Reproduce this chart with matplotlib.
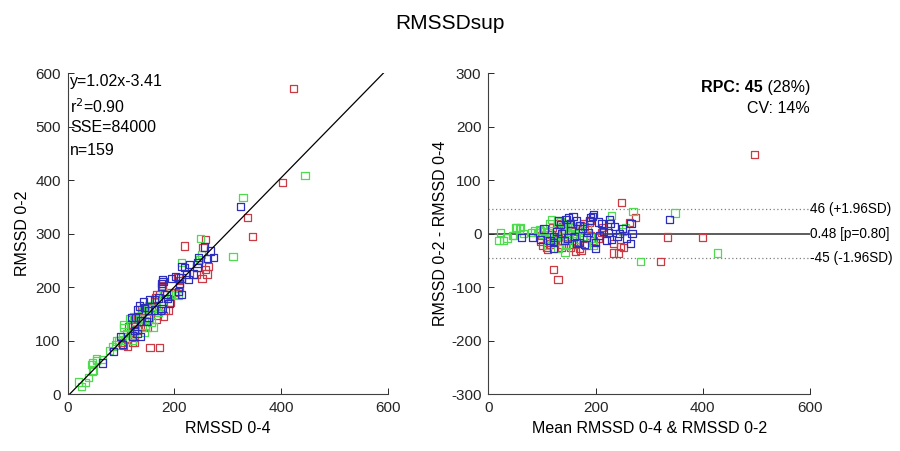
import numpy as np
import matplotlib
matplotlib.use("Agg")
import matplotlib.pyplot as plt

plt.rcParams['font.family'] = ['Liberation Sans', 'DejaVu Sans']
plt.rcParams['axes.unicode_minus'] = False

# Bland-Altman readings (mean of methods, difference 0-2 minus 0-4) per group
red_mean = [497, 248, 334, 399, 321, 121, 130, 274, 264, 252, 243, 234, 233, 213, 189, 177, 179,
            191, 182, 173, 163, 148, 138, 130, 137, 137, 153, 117, 111, 101, 98, 99, 109, 116,
            127, 134, 172, 190, 158, 170, 246, 211, 145, 125, 205, 160, 120, 140, 196, 108]
red_diff = [148, 58, -6, -7, -52, -67, -85, 30, 21, -25, -36, -36, -18, 12, 22, 19, 14,
            -3, -22, -31, -33, 19, 14, 19, -19, -25, -25, -2, -29, -22, -14, -3, -25, -19,
            9, 17, 16, 25, -20, -28, -24, 3, -5, -10, -8, 5, 12, 2, -12, -8]
blue_mean = [338, 266, 268, 258, 265, 245, 236, 228, 226, 224, 211, 208, 196, 191, 189, 200,
             200, 183, 165, 169, 158, 165, 153, 145, 135, 137, 154, 122, 122, 122, 104, 83, 62,
             98, 195, 230, 250, 215, 175, 160, 142, 180, 128, 150, 205, 240, 170, 115, 186,
             132, 220, 148]
blue_diff = [27, 19, 0, -8, -18, 1, 14, 19, 26, 2, 19, -3, 36, 31, 25, -16,
             -28, -7, -17, -16, 32, 24, 19, 26, 17, 0, 6, -6, -16, -27, 9, -7, -7,
             -11, 33, -10, 10, 5, 10, -5, -12, -20, 5, 30, 22, -5, 15, -12, 2,
             24, -12, -8]
green_mean = [270, 348, 427, 284, 256, 230, 194, 196, 165, 155, 152, 143, 129, 140, 147, 143,
              146, 160, 118, 115, 112, 111, 98, 87, 65, 58, 53, 47, 22, 20, 28, 45, 50, 80,
              96, 133, 138, 150, 170, 125, 158, 135, 120, 105, 102, 190, 176, 250, 162, 148,
              60, 91, 130, 185, 115, 168, 35]
green_diff = [42, 39, -36, -52, 11, 34, -16, -22, -3, 12, 19, 9, 25, -6, -11, -34,
              -22, 0, 26, 19, 3, -22, 6, 6, 0, 9, 12, -3, 2, -12, -12, -3, 11, 3,
              7, -14, 8, -2, -10, -5, 14, 22, -12, 4, -1, -8, -4, 5, -18, 15,
              12, 2, -28, 12, -8, 6, -8]

reg_slope, reg_icpt = 1.02, -3.41
fit_text = ["y=1.02x-3.41", "r$^2$=0.90", "SSE=84000", "n=159"]
bias, upper, lower = 0.48, 46, -45
bias_label, upper_label, lower_label = "0.48 [p=0.80]", "46 (+1.96SD)", "-45 (-1.96SD)"

groups = [
    (red_mean, red_diff, '#CC3B45'),
    (green_mean, green_diff, '#4EDC4E'),
    (blue_mean, blue_diff, '#2E2EBE'),
]

fig = plt.figure(figsize=(9, 4.51), dpi=100)
ax1 = fig.add_axes([0.0752, 0.1257, 0.3556, 0.7118])
ax2 = fig.add_axes([0.5426, 0.1257, 0.3574, 0.7118])

for ax in (ax1, ax2):
    for s in ('top', 'right'):
        ax.spines[s].set_visible(False)
    for s in ('left', 'bottom'):
        ax.spines[s].set_color('#404040')
        ax.spines[s].set_linewidth(0.8)
    ax.tick_params(direction='in', length=4, width=0.7, labelsize=11, colors='#262626',
                   pad=5)

# Left: scatter of RMSSD 0-2 vs RMSSD 0-4
for m, d, c in groups:
    m = np.asarray(m, float); d = np.asarray(d, float)
    x04 = m - d / 2
    x02 = m + d / 2
    ax1.scatter(x04, x02, s=27, marker='s', facecolors='none', edgecolors=c, linewidths=0.9,
                zorder=3)
xx = np.array([0, 600])
ax1.plot(xx, reg_slope * xx + reg_icpt, color='black', lw=0.9, zorder=4)
ax1.set_xlim(0, 600)
ax1.set_ylim(0, 600)
ax1.set_xticks([0, 200, 400, 600])
ax1.set_yticks(range(0, 601, 100))
ax1.set_xlabel('RMSSD 0-4', fontsize=11.5, labelpad=4)
ax1.set_ylabel('RMSSD 0-2', fontsize=11.5, labelpad=4)
for i, t in enumerate(fit_text):
    ax1.text(0.008, 0.998 - i * 0.072, t, transform=ax1.transAxes, ha='left', va='top',
             fontsize=11.5)

# Right: Bland-Altman
for m, d, c in groups:
    ax2.scatter(m, d, s=27, marker='s', facecolors='none', edgecolors=c, linewidths=0.9,
                zorder=3)
ax2.axhline(bias, color='#303030', lw=1.1, zorder=2)
ax2.axhline(upper, color='#808080', lw=0.9, ls=(0, (1, 2)), zorder=2)
ax2.axhline(lower, color='#808080', lw=0.9, ls=(0, (1, 2)), zorder=2)
ax2.set_xlim(0, 600)
ax2.set_ylim(-300, 300)
ax2.set_xticks([0, 200, 400, 600])
ax2.set_yticks(range(-300, 301, 100))
ax2.set_xlabel('Mean RMSSD 0-4 & RMSSD 0-2', fontsize=11.5, labelpad=4)
ax2.set_ylabel('RMSSD 0-2 - RMSSD 0-4', fontsize=11.5, labelpad=2)
for yv, lab in ((upper, upper_label), (bias, bias_label), (lower, lower_label)):
    ax2.text(1.0, yv, lab, transform=ax2.get_yaxis_transform(), ha='left', va='center',
             fontsize=9.8, clip_on=False)

t_pct = ax2.text(1.0, 0.955, ' (28%)', transform=ax2.transAxes, ha='right', va='center',
                 fontsize=11.5)
fig.canvas.draw()
bb = t_pct.get_window_extent()
x_left = ax2.transAxes.inverted().transform((bb.x0, bb.y0))[0]
ax2.text(x_left, 0.955, 'RPC: 45', transform=ax2.transAxes, ha='right', va='center',
         fontsize=11.5, fontweight='bold')
ax2.text(1.0, 0.89, 'CV: 14%', transform=ax2.transAxes, ha='right', va='center',
         fontsize=11.5)

fig.text(0.5, 0.948, 'RMSSDsup', ha='center', va='center', fontsize=15)

fig.savefig('out.png', dpi=100)
